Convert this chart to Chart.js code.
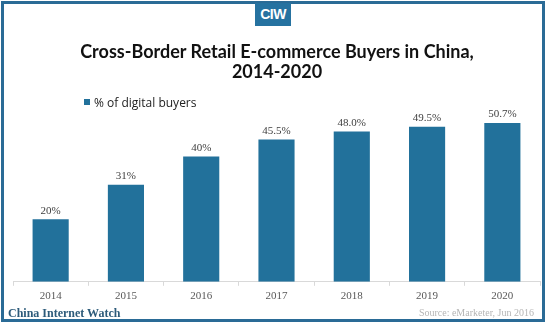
<!DOCTYPE html>
<html>
<head>
<meta charset="utf-8">
<script src="https://cdn.jsdelivr.net/npm/chart.js@4.4.1/dist/chart.umd.min.js"></script>
<style>
  html, body { margin: 0; padding: 0; background: #fff; }
  #wrap { position: relative; width: 546px; height: 324px; overflow: hidden; }
  #frame { position: absolute; left: 1px; top: 1px; width: 538px; height: 315px; border: 3px solid #2a6b96; }
  #logo { position: absolute; left: 255px; top: 3px; width: 36px; height: 23px; background: #2672a0; color: #fff;
          font: bold 14px 'Liberation Sans Narrow', 'Liberation Sans', sans-serif; text-align: center; line-height: 23px; letter-spacing: -0.5px; }
  #title { position: absolute; left: 0; top: 41px; width: 554px; text-align: center; font: bold 18px Lato, sans-serif; line-height: 20px; color: #111; }
  #legend { position: absolute; left: 84px; top: 94px; font: 12px 'Open Sans', sans-serif; color: #222; }
  #legend span { display: inline-block; width: 6px; height: 6px; background: #22719b; margin-right: 4px; vertical-align: 2px; }
  #brand { position: absolute; left: 8px; top: 306px; font: bold 12px 'Liberation Serif', serif; color: #2d5b7a; }
  #source { position: absolute; right: 12px; top: 307px; font: 10px 'Liberation Serif', serif; color: #b5b5b5; }
  canvas { position: absolute; left: 0; top: 0; }
</style>
</head>
<body>
<div id="wrap">
  <canvas id="chart" width="546" height="324"></canvas>
  <div id="frame"></div>
  <div id="logo">CIW</div>
  <div id="title">Cross-Border Retail E-commerce Buyers in China,<br>2014-2020</div>
  <div id="legend"><span></span>% of digital buyers</div>
  <div id="brand">China Internet Watch</div>
  <div id="source">Source: eMarketer, Jun 2016</div>
</div>
<script>
// Data
const years = ['2014', '2015', '2016', '2017', '2018', '2019', '2020'];
const buyerShare = [20, 31, 40, 45.5, 48.0, 49.5, 50.7];
const shareLabels = ['20%', '31%', '40%', '45.5%', '48.0%', '49.5%', '50.7%'];

// value labels above each bar
const barLabels = {
    id: 'barLabels',
    afterDatasetsDraw(chart) {
        const ctx = chart.ctx;
        const meta = chart.getDatasetMeta(0);
        ctx.save();
        ctx.font = "11px 'Liberation Serif', serif";
        ctx.fillStyle = '#404040';
        ctx.textAlign = 'center';
        ctx.textBaseline = 'bottom';
        meta.data.forEach((bar, i) => {
            ctx.fillText(shareLabels[i], bar.x, bar.y - 3);
        });
        ctx.restore();
    }
};

const ctx = document.getElementById('chart').getContext('2d');
new Chart(ctx, {
    type: 'bar',
    data: {
        labels: years,
        datasets: [{
            label: '% of digital buyers',
            data: buyerShare,
            backgroundColor: '#22719b',
            barPercentage: 0.48,
            categoryPercentage: 1
        }]
    },
    options: {
        responsive: false,
        animation: false,
        layout: { padding: { left: 13, right: 6, top: 94, bottom: 17 } },
        plugins: {
            legend: { display: false },
            tooltip: { enabled: false }
        },
        scales: {
            y: {
                display: false,
                min: 0,
                max: 60
            },
            x: {
                grid: {
                    offset: true,
                    drawOnChartArea: false,
                    tickLength: 4,
                    color: '#d9d9d9'
                },
                border: { color: '#d9d9d9' },
                ticks: {
                    padding: 4,
                    color: '#595959',
                    font: { family: "'Liberation Serif', serif", size: 11 }
                }
            }
        }
    },
    plugins: [barLabels]
});
</script>
</body>
</html>
